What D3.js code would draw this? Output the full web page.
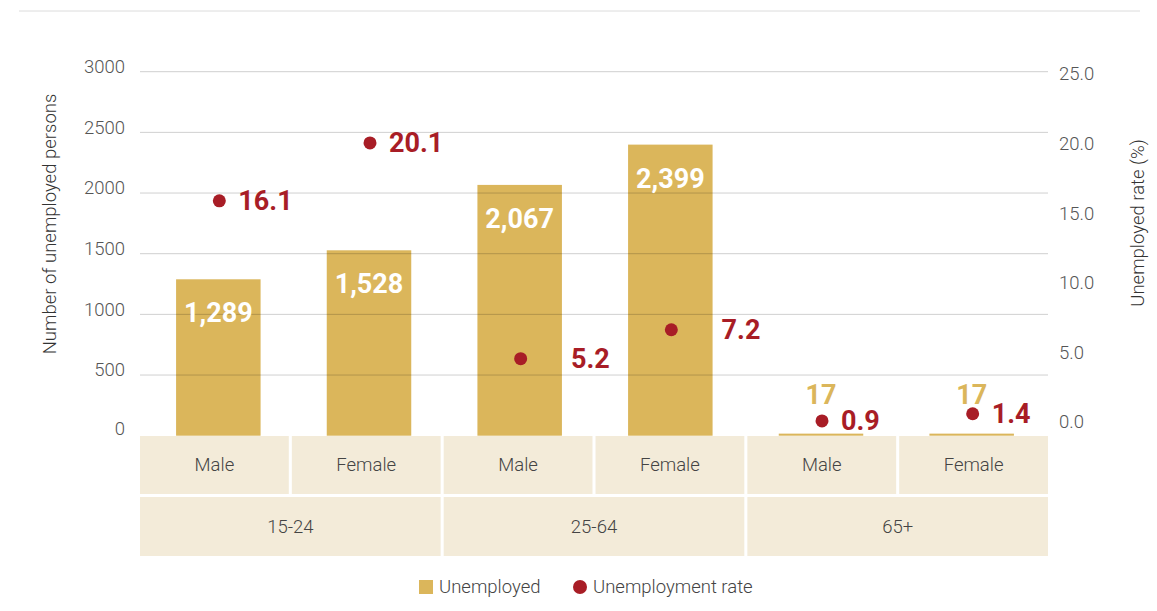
<!DOCTYPE html>
<html>
<head>
<meta charset="utf-8">
<script src="https://cdn.jsdelivr.net/npm/d3@7"></script>
<style>
  body { margin: 0; background: #fff; }
  svg text { font-family: Roboto, "Noto Sans", sans-serif; }
</style>
</head>
<body>
<svg id="chart"></svg>
<script>
// data
const groups = ["15-24", "25-64", "65+"];
const sexes = ["Male", "Female"];
const unemployed = [1289, 1528, 2067, 2399, 17, 17];
const rates = [16.1, 20.1, 5.2, 7.2, 0.9, 1.4];
const leftTicks = [0, 500, 1000, 1500, 2000, 2500, 3000];
const rightTicks = [0, 5, 10, 15, 20, 25];

const W = 1157, H = 611;
const gold = "#dbb65b", red = "#a81d26", cellFill = "#f3ebd9", txt = "#555";
const fs = 18.5, fw = 300;

const svg = d3.select("#chart").attr("width", W).attr("height", H);

// rows: one entry per bar
const rows = [];
groups.forEach((g, gi) => sexes.forEach((s, si) => {
    const i = gi * sexes.length + si;
    rows.push({ key: g + "|" + s, group: g, sex: s, value: unemployed[i], rate: rates[i] });
}));

const x = d3.scaleBand().domain(rows.map(d => d.key)).range([140, 1048]).paddingInner(0.02);
const xBar = d3.scaleBand().domain(rows.map(d => d.key)).range([143, 1047]);
const y = d3.scaleLinear().domain([0, 3000]).range([435.7, 71.7]);
const yR = d3.scaleLinear().domain([0, 25]).range([434, 72]);
const yRLab = d3.scaleLinear().domain([0, 25]).range([422, 74]);
const barW = 84.5;
const cx = d => xBar(d.key) + xBar.bandwidth() / 2;

// top rule
svg.append("line").attr("x1", 19).attr("x2", 1140).attr("y1", 11).attr("y2", 11)
    .attr("stroke", "#dcdcdc").attr("stroke-width", 1);

// bars
svg.append("g").selectAll("rect").data(rows).enter().append("rect")
    .attr("x", d => cx(d) - barW / 2)
    .attr("width", barW)
    .attr("y", d => y(d.value))
    .attr("height", d => y(0) - y(d.value))
    .attr("fill", gold);

// gridlines over the bars
svg.append("g").selectAll("line").data(leftTicks.filter(t => t > 0)).enter().append("line")
    .attr("x1", 140).attr("x2", 1048)
    .attr("y1", d => y(d)).attr("y2", d => y(d))
    .attr("stroke", "rgba(0,0,0,0.19)").attr("stroke-width", 1);

// left axis
const gL = svg.append("g").attr("transform", "translate(140,0)")
    .call(d3.axisLeft(y).tickValues(leftTicks).tickSize(0).tickPadding(15).tickFormat(d3.format("d")));
gL.select(".domain").remove();
gL.selectAll("text").attr("fill", txt).attr("font-size", fs).attr("font-weight", fw).attr("y", -5)
    .attr("font-family", "Roboto, sans-serif");
gL.selectAll("text").filter(d => d === 0).attr("y", -7);

// right axis
const gR = svg.append("g").attr("transform", "translate(1059,0)")
    .call(d3.axisRight(yRLab).tickValues(rightTicks).tickSize(0).tickPadding(0).tickFormat(d3.format(".1f")));
gR.select(".domain").remove();
gR.selectAll("text").attr("fill", txt).attr("font-size", fs).attr("font-weight", fw)
    .attr("font-family", "Roboto, sans-serif");

// axis titles
svg.append("text").attr("transform", "translate(50,224) rotate(-90)")
    .attr("text-anchor", "middle").attr("dominant-baseline", "central")
    .attr("font-size", fs).attr("font-weight", fw).attr("fill", "#333").text("Number of unemployed persons");
svg.append("text").attr("transform", "translate(1138,223) rotate(-90)")
    .attr("text-anchor", "middle").attr("dominant-baseline", "central")
    .attr("font-size", fs).attr("font-weight", fw).attr("fill", "#333").text("Unemployed rate (%)");

// bar value labels
svg.append("g").selectAll("text").data(rows).enter().append("text")
    .attr("x", d => cx(d))
    .attr("y", d => (y(0) - y(d.value) > 60) ? y(d.value) + 43 : y(d.value) - 30)
    .attr("text-anchor", "middle")
    .attr("font-size", 27).attr("font-weight", "bold")
    .attr("fill", d => (y(0) - y(d.value) > 60) ? "#fff" : gold)
    .text(d => d3.format(",")(d.value));

// rate dots
svg.append("g").selectAll("circle").data(rows).enter().append("circle")
    .attr("cx", d => cx(d) + 1)
    .attr("cy", d => yR(d.rate))
    .attr("r", 6.5)
    .attr("fill", red);

svg.append("g").selectAll("text").data(rows).enter().append("text")
    .attr("x", d => yR(d.rate) > y(d.value) ? cx(d) + barW / 2 + 9 : cx(d) + 20)
    .attr("y", d => yR(d.rate))
    .attr("dominant-baseline", "central")
    .attr("font-size", 27).attr("font-weight", "bold")
    .attr("fill", red)
    .text(d => d3.format(".1f")(d.rate));

// category cells
const cellTop = 436, cellBot = 494, grpTop = 497, grpBot = 556;
const cells = svg.append("g");
cells.selectAll("rect").data(rows).enter().append("rect")
    .attr("x", d => x(d.key)).attr("width", x.bandwidth())
    .attr("y", cellTop).attr("height", cellBot - cellTop)
    .attr("fill", cellFill);
cells.selectAll("text").data(rows).enter().append("text")
    .attr("x", d => x(d.key) + x.bandwidth() / 2)
    .attr("y", (cellTop + cellBot) / 2)
    .attr("text-anchor", "middle").attr("dominant-baseline", "central")
    .attr("font-size", fs).attr("font-weight", fw).attr("fill", "#444")
    .text(d => d.sex);

const grpData = groups.map(g => {
    const ks = rows.filter(r => r.group === g).map(r => r.key);
    return { group: g, x0: x(ks[0]), x1: x(ks[ks.length - 1]) + x.bandwidth() };
});
const gg = svg.append("g");
gg.selectAll("rect").data(grpData).enter().append("rect")
    .attr("x", d => d.x0).attr("width", d => d.x1 - d.x0)
    .attr("y", grpTop).attr("height", grpBot - grpTop)
    .attr("fill", cellFill);
gg.selectAll("text").data(grpData).enter().append("text")
    .attr("x", d => (d.x0 + d.x1) / 2)
    .attr("y", (grpTop + grpBot) / 2)
    .attr("text-anchor", "middle").attr("dominant-baseline", "central")
    .attr("font-size", fs).attr("font-weight", fw).attr("fill", "#444")
    .text(d => d.group);

// legend
const lg = svg.append("g").attr("transform", "translate(0,587)");
lg.append("rect").attr("x", 419).attr("y", -7).attr("width", 14).attr("height", 14).attr("fill", gold);
lg.append("text").attr("x", 439).attr("y", 0).attr("dominant-baseline", "central")
    .attr("font-size", fs).attr("font-weight", fw).attr("fill", "#444").text("Unemployed");
lg.append("circle").attr("cx", 580).attr("cy", 0).attr("r", 7).attr("fill", red);
lg.append("text").attr("x", 593).attr("y", 0).attr("dominant-baseline", "central")
    .attr("font-size", fs).attr("font-weight", fw).attr("fill", "#444").text("Unemployment rate");
</script>
</body>
</html>
